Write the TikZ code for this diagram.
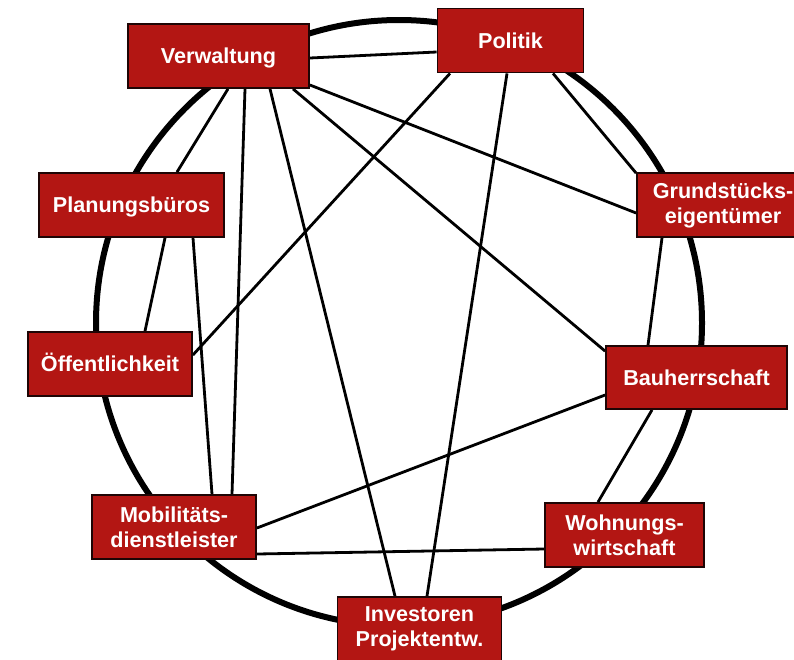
\documentclass[tikz,border=0pt]{standalone}
\usepackage{fontspec}
\setmainfont{Liberation Sans}
\usetikzlibrary{calc,backgrounds}
\definecolor{boxred}{RGB}{179,22,19}
\definecolor{boxedge}{RGB}{30,5,5}
\begin{document}
\begin{tikzpicture}[x=1pt,y=-1pt,
  box/.style={draw=boxedge, line width=1.8pt, fill=boxred, text=white,
    font=\fontsize{21.6}{25}\selectfont\bfseries, align=center,
    inner sep=0pt, minimum height=64pt},
  oneline/.style={text height=15.5pt, text depth=0pt},
  link/.style={line width=2.8pt, draw=black},
  ring/.style={line width=6pt, draw=black}]
\useasboundingbox (0,0) rectangle (794,659);

\node[box, oneline, minimum width=181pt] (verw) at (218.5,56) {Verwaltung};
\node[box, oneline, minimum width=146pt] (pol) at (510.5,40.5) {Politik};
\node[box, minimum width=172pt] (grund) at (723,205) {Grundstücks-\\eigentümer};
\node[box, oneline, minimum width=185pt] (plan) at (131.5,205) {Planungsbüros};
\node[box, oneline, minimum width=164pt] (oeff) at (110,364) {Öffentlichkeit};
\node[box, oneline, minimum width=181pt, minimum height=63pt] (bau) at (696.5,377.5) {Bauherrschaft};
\node[box, minimum width=164pt] (mob) at (174,527) {Mobilitäts-\\dienstleister};
\node[box, minimum width=159pt] (wohn) at (624.5,535) {Wohnungs-\\wirtschaft};
\node[box, minimum width=164pt] (inv) at (419.5,629) {Investoren\\Projektentw.};

\begin{scope}[on background layer]
\draw[ring] (399,323) circle[radius=303pt];
% Verwaltung
\draw[link] ($(verw.east)+(0,2)$) -- ($(pol.west)+(0,11.5)$);
\draw[link] ($(verw.south)+(9.5,0)$) -- ($(plan.north)+(45.5,0)$);
\draw[link] ($(verw.south)+(26.5,0)$) -- ($(mob.north)+(58,0)$);
\draw[link] ($(verw.south)+(51.5,0)$) -- ($(inv.north)+(-24.5,0)$);
\draw[link] ($(verw.south)+(74.5,0)$) -- ($(bau.north west)+(0,6)$);
\draw[link] ($(verw.east)+(0,29)$) -- ($(grund.west)+(0,8)$);
% Politik
\draw[link] ($(pol.south)+(-60.5,0)$) -- ($(oeff.east)+(0,-9)$);
\draw[link] ($(pol.south)+(-3.5,0)$) -- ($(inv.north)+(7.5,0)$);
\draw[link] ($(pol.south)+(42.5,0)$) -- ($(grund.north west)+(0,1)$);
% Planungsbueros
\draw[link] ($(plan.south)+(33.5,0)$) -- ($(oeff.north)+(35,0)$);
\draw[link] ($(plan.south)+(61.5,0)$) -- ($(mob.north)+(38,0)$);
% Grundstuecke / Bauherrschaft
\draw[link] ($(grund.south)+(-61,0)$) -- ($(bau.north)+(-48.5,0)$);
\draw[link] ($(bau.west)+(0,17.5)$) -- ($(mob.east)+(0,1)$);
\draw[link] ($(bau.south)+(-44.5,0)$) -- ($(wohn.north)+(-26.5,0)$);
% Wohnungswirtschaft
\draw[link] ($(wohn.west)+(0,14)$) -- ($(mob.east)+(0,27)$);
\end{scope}
\end{tikzpicture}
\end{document}
